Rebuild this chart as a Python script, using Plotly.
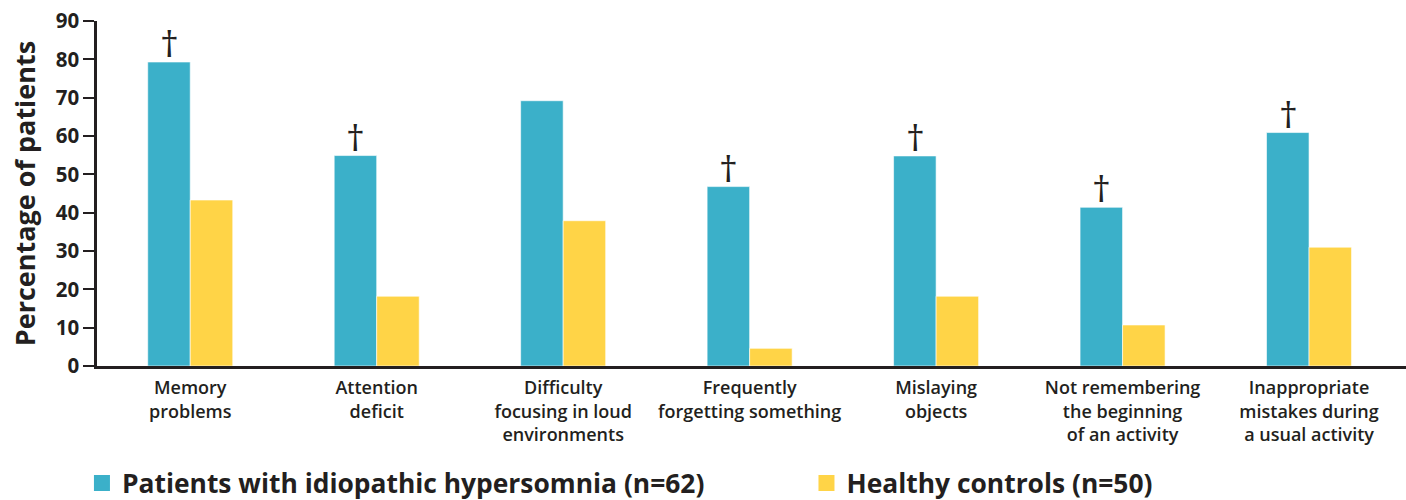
import plotly.graph_objects as go

categories = [
    "Memory<br>problems",
    "Attention<br>deficit",
    "Difficulty<br>focusing in loud<br>environments",
    "Frequently<br>forgetting something",
    "Mislaying<br>objects",
    "Not remembering<br>the beginning<br>of an activity",
    "Inappropriate<br>mistakes during<br>a usual activity",
]
ih_values = [79.3, 54.9, 69.2, 46.8, 54.8, 41.4, 60.9]
hc_values = [43.3, 18.2, 37.9, 4.6, 18.2, 10.7, 31.0]
significant = [True, True, False, True, True, True, True]
ih_name = "Patients with idiopathic hypersomnia (n=62)"
hc_name = "Healthy controls (n=50)"

BLUE = "#3BB0C9"
YELLOW = "#FFD447"
DARK = "#231F20"
FONT = "Open Sans, sans-serif"

fig = go.Figure()
fig.add_trace(go.Bar(x=categories, y=ih_values, name=ih_name,
                     marker=dict(color=BLUE, line=dict(color="rgba(255,255,255,0.6)", width=1)),
                     showlegend=False))
fig.add_trace(go.Bar(x=categories, y=hc_values, name=hc_name,
                     marker=dict(color=YELLOW, line=dict(color="rgba(255,255,255,0.6)", width=1)),
                     showlegend=False))
# legend entries (two separate legends to reproduce spacing)
fig.add_trace(go.Scatter(x=[None], y=[None], mode="markers", name=ih_name, legend="legend",
                         marker=dict(symbol="square", size=17, color=BLUE)))
fig.add_trace(go.Scatter(x=[None], y=[None], mode="markers", name=hc_name, legend="legend2",
                         marker=dict(symbol="square", size=17, color=YELLOW)))

for cat, v, s in zip(categories, ih_values, significant):
    if s:
        fig.add_annotation(x=cat, y=v, text="†", showarrow=False, xref="x", yref="y",
                           yanchor="bottom", xshift=-21, yshift=-8,
                           font=dict(family=FONT, size=37, color=DARK))

legend_font = dict(family=FONT, size=26.4, color=DARK, weight="bold")
fig.update_layout(
    width=1406, height=500,
    margin=dict(l=97, r=0, t=21, b=134, autoexpand=False),
    paper_bgcolor="white", plot_bgcolor="white",
    barmode="group", bargap=0.544, bargroupgap=0,
    font=dict(family=FONT, color=DARK),
    showlegend=True,
    legend=dict(orientation="h", x=-0.0115, xanchor="left", y=-0.34, yanchor="middle",
                font=legend_font, itemsizing="trace", bgcolor="rgba(0,0,0,0)"),
    legend2=dict(orientation="h", x=0.542, xanchor="left", y=-0.34, yanchor="middle",
                 font=legend_font, itemsizing="trace", bgcolor="rgba(0,0,0,0)"),
    xaxis=dict(range=[-0.5, 6.52], showline=True, linecolor=DARK, linewidth=2.5,
               ticks="", showgrid=False, zeroline=False, ticklabelstandoff=4,
               tickfont=dict(family=FONT, size=18, color=DARK, weight=600)),
    yaxis=dict(range=[0, 90], dtick=10, showline=True, linecolor=DARK, linewidth=2.5,
               ticks="outside", ticklen=11, tickwidth=2, tickcolor=DARK,
               showgrid=False, zeroline=False,
               tickfont=dict(family=FONT, size=20.5, color=DARK, weight="bold"),
               title=dict(text="Percentage of patients", standoff=13,
                          font=dict(family=FONT, size=27, color=DARK, weight="bold"))),
)

fig.write_html("out.html", config={"displayModeBar": False},
               post_script="document.body.style.margin='0';")
